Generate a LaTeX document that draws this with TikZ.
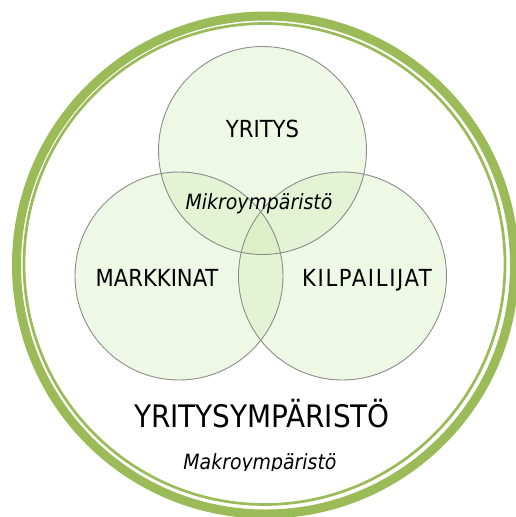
\documentclass[tikz,border=0pt]{standalone}
\usepackage{fontspec}
\setmainfont{DejaVu Sans Condensed}
\begin{document}
\begin{tikzpicture}[x=1pt,y=-1pt,
  ringcol/.style={draw=olive3},
  venn/.style={fill=venngreen, fill opacity=0.3},
  vennedge/.style={draw=black!45, line width=0.9pt},
  label/.style={inner sep=0pt, anchor=base, text=black}]
\definecolor{olive3}{RGB}{155,187,89}
\definecolor{venngreen}{RGB}{205,232,170}
\useasboundingbox (0,0) rectangle (515,517);
\fill[white] (0,0) rectangle (515,517);

% outer environment ring: wide band plus a thin inner line
\draw[ringcol, line width=9pt] (265.5,265) circle[radius=249];
\draw[ringcol, line width=2.7pt] (264.5,264) circle[radius=240.5];

% three overlapping circles of the micro environment
\coordinate (ctop) at (262.5,150.5);
\coordinate (cleft) at (179,276);
\coordinate (cright) at (342.5,276);
\fill[venn] (ctop) circle[radius=104];
\fill[venn] (cleft) circle[radius=104];
\fill[venn] (cright) circle[radius=104];
\draw[vennedge] (ctop) circle[radius=104];
\draw[vennedge] (cleft) circle[radius=104];
\draw[vennedge] (cright) circle[radius=104];

\node[label, font=\fontsize{23.5}{27}\selectfont] (yritys) at (262.5,137) {YRITYS};
\node[label, font=\fontsize{23.5}{27}\selectfont] (markkinat) at (157,286.5) {MARKKINAT};
\node[label, font=\fontsize{23.5}{27}\selectfont\addfontfeature{LetterSpace=7}] (kilpailijat) at (367,286.5) {KILPAILIJAT};
\node[label, font=\fontsize{21}{25}\selectfont\itshape] (mikro) at (259,209.5) {Mikroympäristö};
\node[label, font=\fontsize{31}{36}\selectfont] (ympari) at (262,427) {YRITYSYMPÄRISTÖ};
\begin{scope}
  \clip (0,0) rectangle (515,470);
  \node[label, font=\fontsize{21}{25}\selectfont\itshape] (makro) at (260,469.5) {Makroympäristö};
\end{scope}
\end{tikzpicture}
\end{document}
